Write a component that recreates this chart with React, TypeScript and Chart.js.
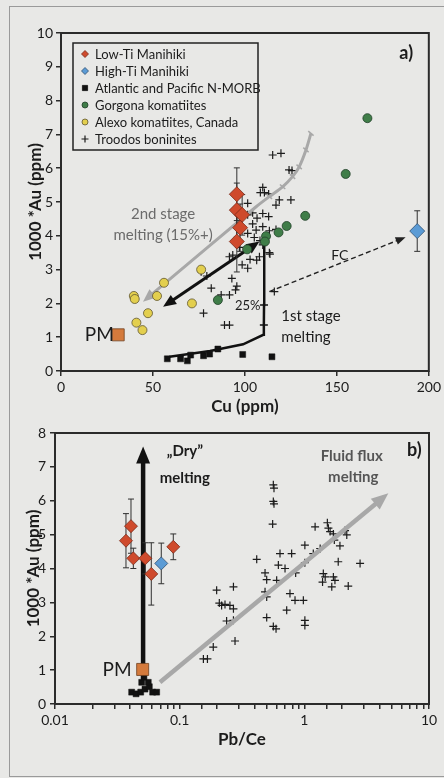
import React, { useEffect, useRef } from 'react';
import { Chart, registerables } from 'chart.js';

Chart.register(...registerables);

const FONT = 'Lato, "Noto Sans", sans-serif';
const INK = '#1c1c1c';
const BG = '#e8e8e6';

// ---------------- Panel a: Cu (ppm) vs 1000*Au (ppm) ----------------
const cuTickValues = [0, 50, 100, 150, 200];
const auTickValuesA = [0, 1, 2, 3, 4, 5, 6, 7, 8, 9, 10];

const lowTiCuA = [95.6, 95.6, 98.5, 97.4, 95.6];
const lowTiAuA = [5.23, 4.76, 4.62, 4.24, 3.83];
const lowTiErrA = [0.78, 0.8, 0.6, 0.7, 0.9];

const highTiCuA = [193.7];
const highTiAuA = [4.14];
const highTiErrA = [0.6];

const morbCuA = [57.8, 65.0, 68.7, 70.5, 77.5, 80.8, 85.3, 98.8, 114.7];
const morbAuA = [0.36, 0.36, 0.3, 0.47, 0.45, 0.5, 0.65, 0.49, 0.42];

const gorgonaCuA = [166.6, 154.8, 132.8, 122.7, 118.3, 111.5, 110.9, 101.2, 85.3];
const gorgonaAuA = [7.48, 5.83, 4.59, 4.29, 4.1, 3.99, 3.83, 3.6, 2.1];

const alexoCuA = [76.2, 56.0, 52.2, 39.6, 40.1, 71.2, 47.3, 41.0, 44.3];
const alexoAuA = [3.0, 2.61, 2.22, 2.22, 2.13, 2.0, 1.71, 1.43, 1.21];

const pmCuA = [31.1];
const pmAuA = [1.07];

const troodosCuA = [115.1, 119.6, 125.6, 109.7, 110.6, 108.4, 112.9, 118.7, 125.0, 116.9, 104.2, 109.7, 101.5, 112.9, 106.6, 104.2, 109.7, 106.1, 113.3, 116.9, 101.5, 105.1, 108.2, 97.0, 109.7, 93.4, 113.6, 102.8, 106.4, 91.6, 98.5, 101.5, 76.2, 79.3, 92.9, 81.7, 95.6, 94.9, 91.6, 87.1, 116.0, 77.5, 91.6, 88.9, 101.5, 124.0, 113.3, 107.9];
const troodosAuA = [6.39, 6.44, 5.93, 5.43, 5.28, 5.28, 5.24, 5.06, 5.06, 4.91, 4.68, 4.66, 4.62, 4.57, 4.52, 4.35, 4.27, 4.17, 4.15, 4.19, 4.07, 3.95, 3.86, 3.66, 3.73, 3.43, 3.46, 3.3, 3.28, 3.38, 3.14, 3.04, 2.94, 2.81, 2.74, 2.45, 2.51, 2.4, 2.25, 2.25, 2.35, 1.71, 1.36, 1.36, 4.96, 5.95, 3.5, 3.38];

// model curves (panel a)
const secondStageCu = [135.9, 133.2, 129.5, 125.9, 120.5, 113.3, 106.1, 44.6];
const secondStageAu = [7.03, 6.54, 6.04, 5.75, 5.45, 5.16, 4.86, 2.05];
const firstStageCu = [59.0, 81.0, 99.0, 110.0, 110.3, 110.4, 110.5];
const firstStageAu = [0.42, 0.59, 0.79, 1.07, 1.36, 1.95, 3.88];
const blackArrowCu = [107.9, 55.5];
const blackArrowAu = [3.83, 1.9];
const fcCu = [113.3, 187.4];
const fcAu = [2.35, 3.96];

// ---------------- Panel b: Pb/Ce vs 1000*Au (ppm) ----------------
const pbCeLabels = ['0.01', '0.1', '1', '10'];
const auTickValuesB = [0, 1, 2, 3, 4, 5, 6, 7, 8];

const lowTiPbCeB = [0.0371, 0.0407, 0.0425, 0.053, 0.0592, 0.0889];
const lowTiAuB = [4.82, 5.25, 4.3, 4.3, 3.84, 4.64];
const lowTiErrB = [0.8, 0.8, 0.3, 0.46, 0.92, 0.38];

const highTiPbCeB = [0.0712];
const highTiAuB = [4.15];
const highTiErrB = [0.6];

const morbPbCeB = [0.0412, 0.0447, 0.0487, 0.0527, 0.0571, 0.0607, 0.0654, 0.0496, 0.056, 0.0517];
const morbAuB = [0.35, 0.3, 0.35, 0.44, 0.51, 0.35, 0.35, 0.64, 0.64, 0.79];

const pmPbCeB = [0.0505];
const pmAuB = [1.02];

const troodosPbCeB = [0.564, 0.571, 0.564, 0.571, 0.557, 0.415, 0.484, 0.499, 0.638, 0.619, 0.7, 0.791, 0.6, 0.484, 0.499, 0.767, 0.842, 0.499, 0.564, 0.593, 1.01, 1.01, 1.18, 1.22, 1.34, 1.42, 1.47, 1.4, 1.53, 1.56, 1.61, 1.71, 1.74, 1.93, 1.87, 1.71, 1.76, 1.66, 2.12, 2.19, 2.25, 2.8, 1.01, 1.01, 0.198, 0.27, 0.208, 0.217, 0.231, 0.253, 0.27, 0.238, 0.27, 0.278, 0.186, 0.155, 0.167, 0.852, 0.722, 0.982];
const troodosAuB = [6.47, 6.37, 5.98, 5.91, 5.31, 4.27, 3.87, 3.67, 4.44, 4.1, 4.0, 4.44, 3.65, 3.31, 3.16, 3.26, 3.06, 2.55, 2.29, 2.22, 4.69, 4.17, 4.44, 5.23, 4.59, 3.85, 3.75, 3.6, 5.35, 5.19, 5.09, 5.02, 4.84, 4.67, 4.2, 3.75, 3.65, 3.46, 5.12, 4.99, 3.48, 4.15, 2.47, 2.32, 3.36, 3.46, 2.98, 2.91, 2.94, 2.91, 2.81, 2.45, 2.47, 1.86, 1.68, 1.33, 1.33, 3.87, 2.77, 3.06];

const dryPbCe = [0.0509, 0.0509];
const dryAu = [1.0, 7.6];
const fluxPbCe = [0.0695, 4.72];
const fluxAu = [0.64, 6.22];

// ---------------- styles ----------------
const RED = '#cf4a2c', RED_EDGE = '#7a2a18';
const BLUE = '#5b9bd5', BLUE_EDGE = '#2f4f70';
const GREEN = '#3f7d48', GREEN_EDGE = '#1f3f27';
const YELLOW = '#e3cf4e', YELLOW_EDGE = '#5f5630';
const ORANGE = '#d47a3c', ORANGE_EDGE = '#6e4020';
const GRAY = '#a8a8a8';

const pts = (xs: number[], ys: number[]) => xs.map((x, i) => ({ x, y: ys[i] }));

type Note = { text: string; x: number; y: number; size: number; bold?: boolean; color?: string; align?: CanvasTextAlign };

function notesPlugin(notes: Note[]) {
  return {
    id: 'notes',
    afterDatasetsDraw(chart: any) {
      const { ctx, scales } = chart;
      ctx.save();
      for (const n of notes) {
        ctx.font = `${n.bold ? 'bold ' : ''}${n.size}px ${FONT}`;
        ctx.fillStyle = n.color || INK;
        ctx.textAlign = n.align || 'center';
        ctx.textBaseline = 'middle';
        ctx.fillText(n.text, scales.x.getPixelForValue(n.x), scales.y.getPixelForValue(n.y));
      }
      ctx.restore();
    },
  };
}

const framePlugin = {
  id: 'frame',
  beforeDatasetsDraw(chart: any) {
    const { ctx, chartArea: a } = chart;
    ctx.save();
    ctx.strokeStyle = '#2b2b2b';
    ctx.lineWidth = 2;
    ctx.strokeRect(a.left, a.top, a.right - a.left, a.bottom - a.top);
    ctx.restore();
  },
};

const errorBarPlugin = {
  id: 'errorBars',
  beforeDatasetDraw(chart: any, args: any) {
    const ds = chart.data.datasets[args.index];
    if (!ds.errors) return;
    const ctx = chart.ctx;
    const ys = chart.scales.y;
    ctx.save();
    ctx.strokeStyle = '#303030';
    ctx.lineWidth = 1;
    args.meta.data.forEach((pt: any, i: number) => {
      const e = ds.errors[i];
      const v = ds.data[i].y;
      const top = ys.getPixelForValue(v + e);
      const bot = ys.getPixelForValue(v - e);
      ctx.beginPath();
      ctx.moveTo(pt.x, top); ctx.lineTo(pt.x, bot);
      ctx.moveTo(pt.x - 3, top); ctx.lineTo(pt.x + 3, top);
      ctx.moveTo(pt.x - 3, bot); ctx.lineTo(pt.x + 3, bot);
      ctx.stroke();
    });
    ctx.restore();
  },
};

const arrowPlugin = {
  id: 'arrowHeads',
  beforeDatasetDraw(chart: any, args: any) {
    const ds = chart.data.datasets[args.index];
    if (!ds.arrow) return;
    const p = args.meta.data;
    const n = p.length;
    ds._saved = [];
    const shrink = (it: number, ip: number) => {
      const a = p[it], b = p[ip];
      const dx = a.x - b.x, dy = a.y - b.y, L = Math.hypot(dx, dy) || 1;
      ds._saved.push([it, a.x, a.y]);
      const s = ds.arrow.len * 0.75;
      a.x -= (dx / L) * s; a.y -= (dy / L) * s;
    };
    if (ds.arrow.end) shrink(n - 1, n - 2);
    if (ds.arrow.start) shrink(0, 1);
  },
  afterDatasetDraw(chart: any, args: any) {
    const ds = chart.data.datasets[args.index];
    if (!ds.arrow) return;
    const p = args.meta.data;
    for (const [i, x, y] of ds._saved) { p[i].x = x; p[i].y = y; }
    const ctx = chart.ctx;
    const { len, width } = ds.arrow;
    ctx.save();
    ctx.fillStyle = ds.arrow.color || ds.borderColor;
    const head = (tip: any, from: any) => {
      const dx = tip.x - from.x, dy = tip.y - from.y, L = Math.hypot(dx, dy) || 1;
      const ux = dx / L, uy = dy / L;
      const bx = tip.x - ux * len, by = tip.y - uy * len;
      ctx.beginPath();
      ctx.moveTo(tip.x, tip.y);
      ctx.lineTo(bx - (uy * width) / 2, by + (ux * width) / 2);
      ctx.lineTo(bx + (uy * width) / 2, by - (ux * width) / 2);
      ctx.closePath();
      ctx.fill();
    };
    const n = p.length;
    if (ds.arrow.end) head(p[n - 1], p[n - 2]);
    if (ds.arrow.start) head(p[0], p[1]);
    ctx.restore();
  },
};

function drawMarker(ctx: CanvasRenderingContext2D, style: string, x: number, y: number, r: number, fill: string, edge: string) {
  ctx.beginPath();
  if (style === 'rectRot') {
    ctx.moveTo(x, y - r); ctx.lineTo(x + r, y); ctx.lineTo(x, y + r); ctx.lineTo(x - r, y); ctx.closePath();
  } else if (style === 'rect') {
    ctx.rect(x - r, y - r, 2 * r, 2 * r);
  } else if (style === 'circle') {
    ctx.arc(x, y, r, 0, Math.PI * 2);
  } else if (style === 'cross') {
    ctx.moveTo(x - r, y); ctx.lineTo(x + r, y); ctx.moveTo(x, y - r); ctx.lineTo(x, y + r);
    ctx.strokeStyle = edge; ctx.lineWidth = 1.2; ctx.stroke();
    return;
  }
  ctx.fillStyle = fill; ctx.fill();
  ctx.strokeStyle = edge; ctx.lineWidth = 0.8; ctx.stroke();
}

const legendPlugin = {
  id: 'boxLegend',
  afterDraw(chart: any) {
    const { ctx, chartArea } = chart;
    const items = chart.data.datasets.filter((d: any) => d.legendRank !== undefined).sort((a: any, b: any) => a.legendRank - b.legendRank);
    if (!items.length) return;
    const x0 = chartArea.left + 12;
    const y0 = chartArea.top + 10;
    ctx.save();
    ctx.strokeStyle = '#222';
    ctx.lineWidth = 1.5;
    ctx.strokeRect(x0, y0, 185, 107);
    ctx.font = `13px ${FONT}`;
    ctx.textBaseline = 'middle';
    ctx.textAlign = 'left';
    items.forEach((ds: any, i: number) => {
      const cy = y0 + 11 + i * 17;
      drawMarker(ctx, ds.pointStyle, x0 + 12, cy, ds.legendR, ds.backgroundColor, ds.borderColor);
      ctx.fillStyle = INK;
      ctx.fillText(ds.label, x0 + 22, cy + 0.5);
    });
    ctx.restore();
  },
};

const tickFont = { family: FONT, size: 14 };
const titleFont = { family: FONT, size: 17, weight: 'bold' as const };
const gridOpts = { drawOnChartArea: false, drawTicks: true, tickLength: 5, color: '#2b2b2b', lineWidth: 1.5 };

function configA(): any {
  return {
    type: 'scatter',
    data: {
      datasets: [
        { label: 'Low-Ti Manihiki', data: pts(lowTiCuA, lowTiAuA), errors: lowTiErrA, pointStyle: 'rectRot', pointRadius: 7.5, backgroundColor: RED, borderColor: RED_EDGE, borderWidth: 0.8, order: 1, legendRank: 0, legendR: 3.5 },
        { label: 'High-Ti Manihiki', data: pts(highTiCuA, highTiAuA), errors: highTiErrA, pointStyle: 'rectRot', pointRadius: 7.5, backgroundColor: BLUE, borderColor: BLUE_EDGE, borderWidth: 0.8, order: 1, legendRank: 1, legendR: 3.5 },
        { label: 'Atlantic and Pacific N-MORB', data: pts(morbCuA, morbAuA), pointStyle: 'rect', pointRadius: 4.2, backgroundColor: '#111', borderColor: '#111', borderWidth: 0.5, order: 3, legendRank: 2, legendR: 2.6 },
        { label: 'Gorgona komatiites', data: pts(gorgonaCuA, gorgonaAuA), pointStyle: 'circle', pointRadius: 4.5, backgroundColor: GREEN, borderColor: GREEN_EDGE, borderWidth: 0.8, order: 2, legendRank: 3, legendR: 3 },
        { label: 'Alexo komatiites, Canada', data: pts(alexoCuA, alexoAuA), pointStyle: 'circle', pointRadius: 4.5, backgroundColor: YELLOW, borderColor: YELLOW_EDGE, borderWidth: 0.8, order: 2, legendRank: 4, legendR: 3 },
        { label: 'Troodos boninites', data: pts(troodosCuA, troodosAuA), pointStyle: 'cross', pointRadius: 4, backgroundColor: INK, borderColor: INK, borderWidth: 1.2, order: 6, legendRank: 5, legendR: 3.5 },
        { label: 'PM', data: pts(pmCuA, pmAuA), pointStyle: 'rect', pointRadius: 8.5, backgroundColor: ORANGE, borderColor: ORANGE_EDGE, borderWidth: 0.8, order: 2 },
        { label: '2nd stage melting', data: pts(secondStageCu, secondStageAu), showLine: true, borderColor: GRAY, borderWidth: 3, tension: 0.25, pointStyle: 'line', pointRotation: 40, pointRadius: [3.5, 3.5, 3.5, 3.5, 3.5, 3.5, 0, 0], pointBorderColor: GRAY, pointBorderWidth: 1.5, order: 5, arrow: { end: true, len: 13, width: 11 } },
        { label: '1st stage melting', data: pts(firstStageCu, firstStageAu), showLine: true, borderColor: '#111', borderWidth: 2.5, tension: 0, pointStyle: 'line', pointRotation: 0, pointRadius: [0, 0, 0, 0, 4, 4, 0], pointBorderColor: '#111', pointBorderWidth: 1.5, order: 4 },
        { label: '25% to 2nd stage', data: pts(blackArrowCu, blackArrowAu), showLine: true, borderColor: '#111', borderWidth: 3, pointRadius: 0, order: 4, arrow: { end: true, start: true, len: 13, width: 11 } },
        { label: 'FC', data: pts(fcCu, fcAu), showLine: true, borderColor: '#222', borderWidth: 1.4, borderDash: [5, 3], pointRadius: 0, order: 5, arrow: { end: true, len: 10, width: 8 } },
      ],
    },
    options: {
      animation: false,
      responsive: false,
      layout: { padding: { top: 33, right: 14, left: 0, bottom: 0 } },
      plugins: { legend: { display: false }, tooltip: { enabled: false } },
      scales: {
        x: {
          type: 'linear', min: 0, max: 200,
          afterFit: (s: any) => { s.height = 49; },
          afterBuildTicks: (s: any) => { s.ticks = cuTickValues.map((value) => ({ value })); },
          ticks: { font: tickFont, color: INK, padding: 3, maxRotation: 0, autoSkip: false },
          grid: gridOpts,
          border: { display: false },
          title: { display: true, text: 'Cu (ppm)', font: titleFont, color: INK, padding: { top: 0, bottom: 3 } },
        },
        y: {
          type: 'linear', min: 0, max: 10,
          afterFit: (s: any) => { s.width = 61; },
          afterBuildTicks: (s: any) => { s.ticks = auTickValuesA.map((value) => ({ value })); },
          ticks: { font: tickFont, color: INK, padding: 3, autoSkip: false },
          grid: gridOpts,
          border: { display: false },
          title: { display: true, text: '1000 *Au (ppm)', font: titleFont, color: INK, padding: { top: 25, bottom: 0 } },
        },
      },
    },
    plugins: [
      framePlugin, errorBarPlugin, arrowPlugin, legendPlugin,
      notesPlugin([
        { text: '2nd stage', x: 55.5, y: 4.63, size: 15, color: '#6b6b6b' },
        { text: 'melting (15%+)', x: 55.5, y: 4.02, size: 15, color: '#6b6b6b' },
        { text: '25%', x: 101.5, y: 1.92, size: 13 },
        { text: '1st stage', x: 135.9, y: 1.63, size: 15 },
        { text: 'melting', x: 133.2, y: 1.0, size: 15 },
        { text: 'FC', x: 151.6, y: 3.43, size: 14 },
        { text: 'PM', x: 28.7, y: 1.07, size: 19, align: 'right' },
        { text: 'a)', x: 187.7, y: 9.4, size: 18, bold: true },
      ]),
    ],
  };
}

function configB(): any {
  return {
    type: 'scatter',
    data: {
      datasets: [
        { label: 'Low-Ti Manihiki', data: pts(lowTiPbCeB, lowTiAuB), errors: lowTiErrB, pointStyle: 'rectRot', pointRadius: 6.5, backgroundColor: RED, borderColor: RED_EDGE, borderWidth: 0.8, order: 1 },
        { label: 'High-Ti Manihiki', data: pts(highTiPbCeB, highTiAuB), errors: highTiErrB, pointStyle: 'rectRot', pointRadius: 6.5, backgroundColor: BLUE, borderColor: BLUE_EDGE, borderWidth: 0.8, order: 1 },
        { label: 'Atlantic and Pacific N-MORB', data: pts(morbPbCeB, morbAuB), pointStyle: 'rect', pointRadius: 4.2, backgroundColor: '#111', borderColor: '#111', borderWidth: 0.5, order: 3 },
        { label: 'Troodos boninites', data: pts(troodosPbCeB, troodosAuB), pointStyle: 'cross', pointRadius: 4, backgroundColor: INK, borderColor: INK, borderWidth: 1.2, order: 6 },
        { label: 'PM', data: pts(pmPbCeB, pmAuB), pointStyle: 'rect', pointRadius: 8.5, backgroundColor: ORANGE, borderColor: ORANGE_EDGE, borderWidth: 0.8, order: 2 },
        { label: 'Dry melting', data: pts(dryPbCe, dryAu), showLine: true, borderColor: '#111', borderWidth: 4.5, pointRadius: 0, order: 4, arrow: { end: true, len: 17, width: 14 } },
        { label: 'Fluid flux melting', data: pts(fluxPbCe, fluxAu), showLine: true, borderColor: GRAY, borderWidth: 4.5, pointRadius: 0, order: 5, arrow: { end: true, len: 17, width: 14 } },
      ],
    },
    options: {
      animation: false,
      responsive: false,
      layout: { padding: { top: 13, right: 15, left: 0, bottom: 0 } },
      plugins: { legend: { display: false }, tooltip: { enabled: false } },
      scales: {
        x: {
          type: 'logarithmic', min: 0.01, max: 10,
          afterFit: (s: any) => { s.height = 74; },
          ticks: {
            font: tickFont, color: INK, padding: 3, maxRotation: 0, autoSkip: false,
            callback: (v: any) => {
              const l = Math.log10(Number(v));
              const k = Math.round(l);
              return Math.abs(l - k) < 1e-6 && k >= -2 && k <= 1 ? pbCeLabels[k + 2] : '';
            },
          },
          grid: gridOpts,
          border: { display: false },
          title: { display: true, text: 'Pb/Ce', font: titleFont, color: INK, padding: { top: 0, bottom: 28 } },
        },
        y: {
          type: 'linear', min: 0, max: 8,
          afterFit: (s: any) => { s.width = 55; },
          afterBuildTicks: (s: any) => { s.ticks = auTickValuesB.map((value) => ({ value })); },
          ticks: { font: tickFont, color: INK, padding: 4, autoSkip: false },
          grid: gridOpts,
          border: { display: false },
          title: { display: true, text: '1000 *Au (ppm)', font: titleFont, color: INK, padding: { top: 23, bottom: 0 } },
        },
      },
    },
    plugins: [
      framePlugin, errorBarPlugin, arrowPlugin,
      notesPlugin([
        { text: '\u201EDry\u201D', x: 0.11, y: 7.46, size: 15, bold: true },
        { text: 'melting', x: 0.11, y: 6.67, size: 15, bold: true },
        { text: 'Fluid flux', x: 2.4, y: 7.33, size: 15, bold: true, color: '#555' },
        { text: 'melting', x: 2.47, y: 6.7, size: 15, bold: true, color: '#555' },
        { text: 'PM', x: 0.0412, y: 1.02, size: 19, align: 'right' },
        { text: 'b)', x: 7.63, y: 7.5, size: 18, bold: true },
      ]),
    ],
  };
}

export default function App() {
  const refA = useRef<HTMLCanvasElement>(null);
  const refB = useRef<HTMLCanvasElement>(null);
  useEffect(() => {
    Chart.defaults.font.family = FONT;
    const a = new Chart(refA.current as HTMLCanvasElement, configA());
    const b = new Chart(refB.current as HTMLCanvasElement, configB());
    return () => { a.destroy(); b.destroy(); };
  }, []);
  return (
    <div style={{ position: 'fixed', left: 0, top: 0, width: 444, height: 778, background: BG, overflow: 'hidden' }}>
      <div style={{ position: 'absolute', left: 9, top: 6, width: 460, height: 769, border: '1px solid #9a9a9a' }} />
      <canvas ref={refA} width={444} height={420} style={{ position: 'absolute', left: 0, top: 0, width: 444, height: 420 }} />
      <canvas ref={refB} width={444} height={358} style={{ position: 'absolute', left: 0, top: 420, width: 444, height: 358 }} />
    </div>
  );
}
